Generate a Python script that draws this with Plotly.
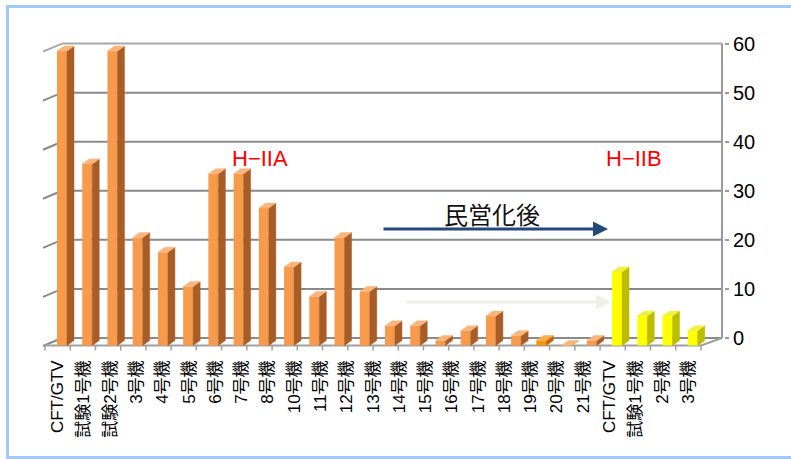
import plotly.graph_objects as go

# ---------------- data ----------------
tick_labels = ["CFT/GTV", "試験1号機", "試験2号機", "3号機", "4号機", "5号機", "6号機", "7号機",
               "8号機", "10号機", "11号機", "12号機", "13号機", "14号機", "15号機", "16号機",
               "17号機", "18号機", "19号機", "20号機", "21号機",
               "CFT/GTV", "試験1号機", "2号機", "3号機"]
h2a_values = [60, 37, 60, 22, 19, 12, 35, 35, 28, 16, 10, 22, 11, 4, 4, 1, 3, 6, 2, 1, 0, 1]
h2b_values = [15, 6, 6, 3]
y_ticks = [0, 10, 20, 30, 40, 50, 60]

# ---------------- geometry helpers (pixel -> axis units) ----------------
W, H = 791, 459
L, R, T, B = 40, 724, 40, 351
SX = 25.23   # px per category slot
SY = 4.907   # px per unit


def X(px):
    return (px - 45) / SX


def Y(py):
    return (345.5 - py) / SY


def XP(px):
    return (px - L) / (R - L)


def YP(py):
    return (B - py) / (B - T)


values = h2a_values + h2b_values
n = len(values)
slots = list(range(n))

back_dx = X(62) - X(45)
back_dy = (345.5 - 338) / SY
back_right = X(722)
face_off = 12 / SX
face_w = 10 / SX
side_dx = 7 / SX
rise = 5 / SY

ORANGE = ("#F89A4C", "#A85D27", "#FBB57A")
SPECIAL = ("#F6930F", "#C0680C", "#F9AE4A")
YELLOW = ("#FFFF00", "#BDBD00", "#F0F040")


def style_for(i):
    if i >= len(h2a_values):
        return YELLOW
    if i == 19:
        return SPECIAL
    return ORANGE


fig = go.Figure()

# front faces as bars
fig.add_trace(go.Bar(
    x=slots, y=values, base=0, offset=face_off, width=face_w,
    marker=dict(color=[style_for(i)[0] for i in slots], line=dict(width=0)),
    hoverinfo="skip", showlegend=False,
))

# side and top faces (3D look) computed from the values
groups = {}
for i, v in zip(slots, values):
    st = style_for(i)
    g = groups.setdefault(st, {"sx": [], "sy": [], "tx": [], "ty": []})
    xl = i + face_off
    xr = xl + face_w
    g["sx"] += [xr, xr + side_dx, xr + side_dx, xr, xr, None]
    g["sy"] += [0, rise, v + rise, v, 0, None]
    g["tx"] += [xl, xr, xr + side_dx, xl + side_dx, xl, None]
    g["ty"] += [v, v, v + rise, v + rise, v, None]

for st, g in groups.items():
    fig.add_trace(go.Scatter(x=g["sx"], y=g["sy"], mode="lines", fill="toself",
                             fillcolor=st[1], line=dict(color=st[1], width=0.5),
                             hoverinfo="skip", showlegend=False))
    fig.add_trace(go.Scatter(x=g["tx"], y=g["ty"], mode="lines", fill="toself",
                             fillcolor=st[2], line=dict(color=st[2], width=0.5),
                             hoverinfo="skip", showlegend=False))

shapes = []
GRID = "#8A8A8A"
for t in y_ticks:
    yy = t + back_dy
    col = "#A8A8A8" if t == y_ticks[-1] else GRID
    shapes.append(dict(type="line", xref="x", yref="y", layer="below",
                       x0=back_dx, x1=back_right, y0=yy, y1=yy,
                       line=dict(color=col, width=2)))
    shapes.append(dict(type="line", xref="x", yref="y", layer="below",
                       x0=X(43), x1=back_dx, y0=yy - 8 / SY, y1=yy,
                       line=dict(color=col, width=2)))

# floor front edge and right edge
shapes.append(dict(type="line", xref="x", yref="y", layer="below",
                   x0=X(44), x1=n, y0=0, y1=0, line=dict(color="#A0A0A0", width=2)))
shapes.append(dict(type="line", xref="x", yref="y", layer="below",
                   x0=n, x1=back_right, y0=0, y1=back_dy, line=dict(color="#A0A0A0", width=2)))
# floor tick marks
for k in range(n + 1):
    shapes.append(dict(type="line", xref="x", yref="y", layer="below",
                       x0=k, x1=k, y0=0, y1=-5 / SY, line=dict(color="#A0A0A0", width=1.5)))
# right axis line
shapes.append(dict(type="line", xref="x", yref="y", layer="below",
                   x0=back_right, x1=back_right, y0=back_dy, y1=y_ticks[-1] + back_dy,
                   line=dict(color="#9A9A9A", width=2)))

# outer light blue frame (top, left, bottom)
shapes.append(dict(type="line", xref="paper", yref="paper",
                   x0=XP(6), x1=XP(791), y0=YP(6.5), y1=YP(6.5),
                   line=dict(color="#A3CAF6", width=3)))
shapes.append(dict(type="line", xref="paper", yref="paper",
                   x0=XP(7.5), x1=XP(7.5), y0=YP(5), y1=YP(458),
                   line=dict(color="#A3CAF6", width=3)))
shapes.append(dict(type="line", xref="paper", yref="paper",
                   x0=XP(6), x1=XP(791), y0=YP(457.5), y1=YP(457.5),
                   line=dict(color="#A3CAF6", width=3)))

label_pos = [0.5 + j * (n - 1) / (len(tick_labels) - 1) for j in range(len(tick_labels))]

FONT = "Liberation Sans, Arial, Noto Sans CJK JP, sans-serif"
annotations = [
    dict(x=XP(260), y=YP(158), xref="paper", yref="paper", text="H\u2212IIA", showarrow=False,
         xanchor="center", yanchor="middle",
         font=dict(family=FONT, size=22, color="#FF0000")),
    dict(x=XP(634), y=YP(158), xref="paper", yref="paper", text="H\u2212IIB", showarrow=False,
         xanchor="center", yanchor="middle",
         font=dict(family=FONT, size=22, color="#FF0000")),
    dict(x=XP(492), y=YP(213), xref="paper", yref="paper", text="民営化後", showarrow=False,
         xanchor="center", yanchor="middle",
         font=dict(family="Noto Sans CJK JP, sans-serif", size=24, color="#111111")),
    dict(x=X(608), y=Y(229), xref="x", yref="y", ax=X(382), ay=Y(229), axref="x", ayref="y",
         text="", showarrow=True, arrowhead=2, arrowsize=1, arrowwidth=3, arrowcolor="#24477C"),
    dict(x=X(611), y=Y(302), xref="x", yref="y", ax=X(405), ay=Y(302), axref="x", ayref="y",
         text="", showarrow=True, arrowhead=2, arrowsize=1, arrowwidth=3, arrowcolor="#EEEFE6"),
]

fig.update_layout(
    width=W, height=H,
    margin=dict(l=L, r=W - R, t=T, b=H - B, pad=0),
    paper_bgcolor="white", plot_bgcolor="white",
    barmode="overlay",
    showlegend=False,
    shapes=shapes,
    annotations=annotations,
    xaxis=dict(range=[X(L), X(R)], showgrid=False, zeroline=False, showline=False,
               automargin=False,
               tickmode="array", tickvals=label_pos, ticktext=tick_labels,
               tickangle=-90, ticks="", ticklabelstandoff=5,
               tickfont=dict(family=FONT, size=17, color="#000000")),
    yaxis=dict(range=[Y(B), Y(T)], side="right", showgrid=False, zeroline=False, showline=False,
               automargin=False,
               tickmode="array", tickvals=[t + back_dy for t in y_ticks],
               ticktext=[str(t) for t in y_ticks],
               ticks="outside", ticklen=4, tickwidth=2, tickcolor="#9A9A9A",
               tickfont=dict(family=FONT, size=20, color="#000000")),
)

fig.write_html("out.html")
